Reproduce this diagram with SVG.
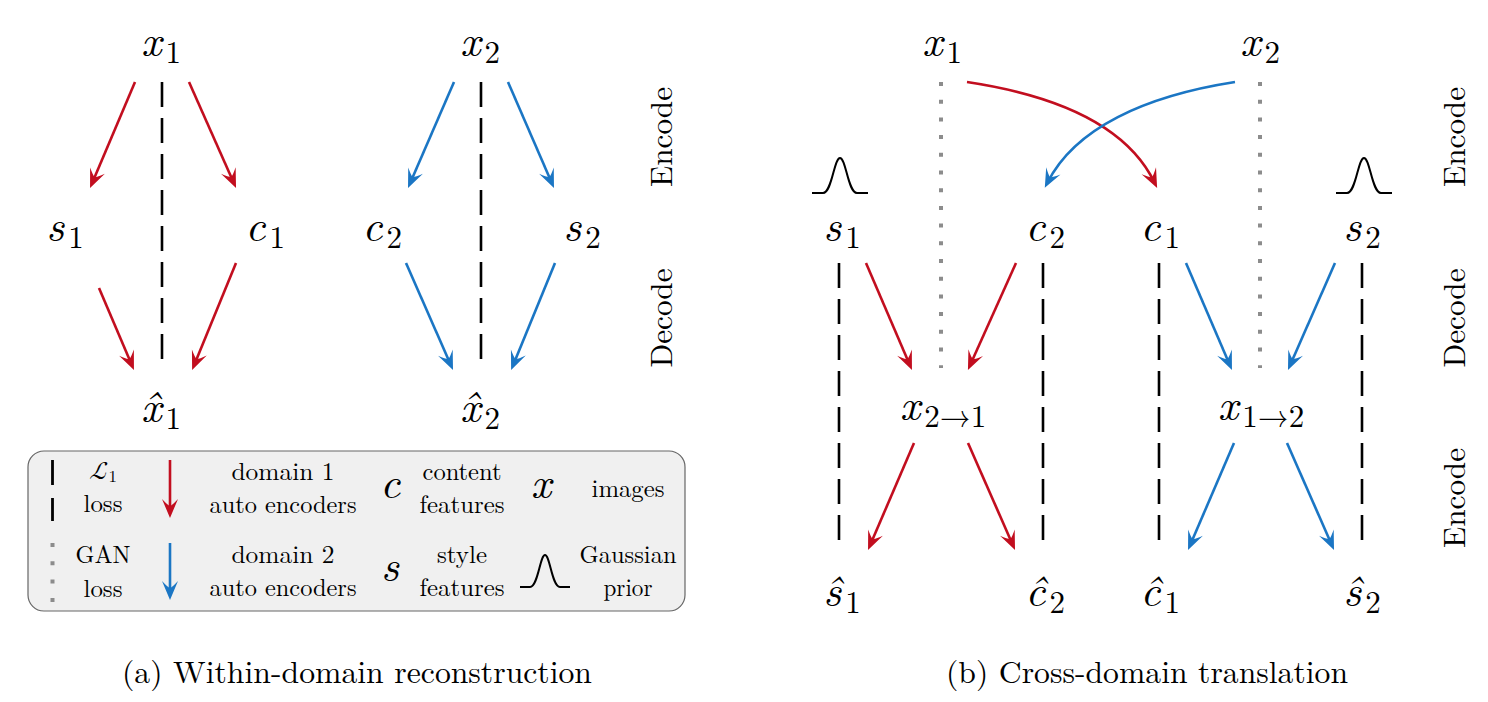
<svg xmlns="http://www.w3.org/2000/svg" width="1488" height="702" viewBox="0 0 1488 702">
<style>
.m{font-size:44px;text-anchor:middle}
.i{font-style:italic}
.sb{font-size:31px;font-style:normal}
.lg{font-size:24.5px;text-anchor:middle}
.lab{font-size:31px;text-anchor:middle}
.cap{font-size:31px;text-anchor:middle}
.r{stroke:#c20e1f;stroke-width:2.6;fill:none}
.b{stroke:#1b76c4;stroke-width:2.6;fill:none}
.d{stroke:#000;stroke-width:2.6;stroke-dasharray:25 11;fill:none}
.g{stroke:#8c8c8c;stroke-width:4;stroke-dasharray:4 13.7;fill:none}
.gs{stroke:#000;stroke-width:2;fill:none}
</style>
<defs>
<marker id="ar" viewBox="-20 -10 28 20" refX="0" refY="0" markerWidth="28" markerHeight="20" markerUnits="userSpaceOnUse" orient="auto"><path d="M6,0 L-13,-8 Q-6,-1.5 -6,0 Q-6,1.5 -13,8 Z" fill="#c20e1f"/></marker>
<marker id="ab" viewBox="-20 -10 28 20" refX="0" refY="0" markerWidth="28" markerHeight="20" markerUnits="userSpaceOnUse" orient="auto"><path d="M6,0 L-13,-8 Q-6,-1.5 -6,0 Q-6,1.5 -13,8 Z" fill="#1b76c4"/></marker>
</defs>

<!-- Panel (a) nodes -->
<g id="a-x1"><text font-family="Latin Modern Roman, Liberation Serif, serif" class="m" x="161" y="56"><tspan class="i">x</tspan><tspan class="sb" dx="4" dy="7">1</tspan></text></g>
<g id="a-x2"><text font-family="Latin Modern Roman, Liberation Serif, serif" class="m" x="480" y="56"><tspan class="i">x</tspan><tspan class="sb" dx="4" dy="7">2</tspan></text></g>
<g id="a-s1"><text font-family="Latin Modern Roman, Liberation Serif, serif" class="m" x="65" y="241"><tspan class="i">s</tspan><tspan class="sb" dx="4" dy="7">1</tspan></text></g>
<g id="a-c1"><text font-family="Latin Modern Roman, Liberation Serif, serif" class="m" x="265" y="241"><tspan class="i">c</tspan><tspan class="sb" dx="4" dy="7">1</tspan></text></g>
<g id="a-c2"><text font-family="Latin Modern Roman, Liberation Serif, serif" class="m" x="382" y="241"><tspan class="i">c</tspan><tspan class="sb" dx="4" dy="7">2</tspan></text></g>
<g id="a-s2"><text font-family="Latin Modern Roman, Liberation Serif, serif" class="m" x="582" y="241"><tspan class="i">s</tspan><tspan class="sb" dx="4" dy="7">2</tspan></text></g>
<g id="a-xh1"><text font-family="Latin Modern Roman, Liberation Serif, serif" class="m" x="161" y="422"><tspan class="i">x̂</tspan><tspan class="sb" dx="4" dy="7">1</tspan></text></g>
<g id="a-xh2"><text font-family="Latin Modern Roman, Liberation Serif, serif" class="m" x="480" y="422"><tspan class="i">x̂</tspan><tspan class="sb" dx="4" dy="7">2</tspan></text></g>
<g id="a-labels">
<text font-family="Latin Modern Roman, Liberation Serif, serif" class="lab" transform="translate(672,137) rotate(-90)" textLength="100" lengthAdjust="spacingAndGlyphs">Encode</text>
<text font-family="Latin Modern Roman, Liberation Serif, serif" class="lab" transform="translate(672,318) rotate(-90)" textLength="99" lengthAdjust="spacingAndGlyphs">Decode</text>
</g>

<!-- Panel (b) nodes -->
<g id="b-x1"><text font-family="Latin Modern Roman, Liberation Serif, serif" class="m" x="942" y="56"><tspan class="i">x</tspan><tspan class="sb" dx="4" dy="7">1</tspan></text></g>
<g id="b-x2"><text font-family="Latin Modern Roman, Liberation Serif, serif" class="m" x="1260" y="56"><tspan class="i">x</tspan><tspan class="sb" dx="4" dy="7">2</tspan></text></g>
<g id="b-s1"><text font-family="Latin Modern Roman, Liberation Serif, serif" class="m" x="842" y="241"><tspan class="i">s</tspan><tspan class="sb" dx="4" dy="7">1</tspan></text><path class="gs" d="M812,193 L823,193 C832,193 834,158 840,158 C846,158 848,193 857,193 L868,193"/></g>
<g id="b-c2"><text font-family="Latin Modern Roman, Liberation Serif, serif" class="m" x="1045" y="241"><tspan class="i">c</tspan><tspan class="sb" dx="4" dy="7">2</tspan></text></g>
<g id="b-c1"><text font-family="Latin Modern Roman, Liberation Serif, serif" class="m" x="1160" y="241"><tspan class="i">c</tspan><tspan class="sb" dx="4" dy="7">1</tspan></text></g>
<g id="b-s2"><text font-family="Latin Modern Roman, Liberation Serif, serif" class="m" x="1362" y="241"><tspan class="i">s</tspan><tspan class="sb" dx="4" dy="7">2</tspan></text><path class="gs" d="M1336,193 L1347,193 C1356,193 1358,158 1364,158 C1370,158 1372,193 1381,193 L1392,193"/></g>
<g id="b-x21"><text font-family="Latin Modern Roman, Liberation Serif, serif" class="m" x="943" y="420"><tspan class="i">x</tspan><tspan class="sb" dx="4" dy="7">2→1</tspan></text></g>
<g id="b-x12"><text font-family="Latin Modern Roman, Liberation Serif, serif" class="m" x="1261" y="420"><tspan class="i">x</tspan><tspan class="sb" dx="4" dy="7">1→2</tspan></text></g>
<g id="b-sh1"><text font-family="Latin Modern Roman, Liberation Serif, serif" class="m" x="842" y="606"><tspan class="i">ŝ</tspan><tspan class="sb" dx="4" dy="7">1</tspan></text></g>
<g id="b-ch2"><text font-family="Latin Modern Roman, Liberation Serif, serif" class="m" x="1045" y="606"><tspan class="i">ĉ</tspan><tspan class="sb" dx="4" dy="7">2</tspan></text></g>
<g id="b-ch1"><text font-family="Latin Modern Roman, Liberation Serif, serif" class="m" x="1160" y="606"><tspan class="i">ĉ</tspan><tspan class="sb" dx="4" dy="7">1</tspan></text></g>
<g id="b-sh2"><text font-family="Latin Modern Roman, Liberation Serif, serif" class="m" x="1362" y="606"><tspan class="i">ŝ</tspan><tspan class="sb" dx="4" dy="7">2</tspan></text></g>
<g id="b-labels">
<text font-family="Latin Modern Roman, Liberation Serif, serif" class="lab" transform="translate(1465,137) rotate(-90)" textLength="100" lengthAdjust="spacingAndGlyphs">Encode</text>
<text font-family="Latin Modern Roman, Liberation Serif, serif" class="lab" transform="translate(1465,318) rotate(-90)" textLength="99" lengthAdjust="spacingAndGlyphs">Decode</text>
<text font-family="Latin Modern Roman, Liberation Serif, serif" class="lab" transform="translate(1465,498) rotate(-90)" textLength="100" lengthAdjust="spacingAndGlyphs">Encode</text>
</g>

<!-- Connectors -->
<g id="connectors">
<line class="d" x1="162" y1="82" x2="162" y2="370"/>
<line class="d" x1="481" y1="82" x2="481" y2="370"/>
<line class="r" x1="135" y1="82" x2="92.4" y2="182.5" marker-end="url(#ar)"/>
<line class="r" x1="189" y1="82" x2="233.6" y2="182.5" marker-end="url(#ar)"/>
<line class="r" x1="99" y1="288" x2="131.6" y2="364.5" marker-end="url(#ar)"/>
<line class="r" x1="236" y1="263" x2="194.4" y2="364.5" marker-end="url(#ar)"/>
<line class="b" x1="454" y1="82" x2="410.4" y2="182.5" marker-end="url(#ab)"/>
<line class="b" x1="508" y1="82" x2="551.6" y2="182.5" marker-end="url(#ab)"/>
<line class="b" x1="406" y1="263" x2="450.6" y2="364.5" marker-end="url(#ab)"/>
<line class="b" x1="555" y1="263" x2="513.4" y2="364.5" marker-end="url(#ab)"/>

<line class="g" x1="941" y1="82" x2="941" y2="368"/>
<line class="g" x1="1260" y1="82" x2="1260" y2="368"/>
<path class="r" d="M967,82 C1060,96 1128,128 1154.5,182.5" marker-end="url(#ar)"/>
<path class="b" d="M1235,82 C1145,96 1075,128 1047.5,182.5" marker-end="url(#ab)"/>
<line class="d" x1="839" y1="263" x2="839" y2="550"/>
<line class="d" x1="1043" y1="263" x2="1043" y2="550"/>
<line class="d" x1="1159" y1="263" x2="1159" y2="550"/>
<line class="d" x1="1362" y1="263" x2="1362" y2="550"/>
<line class="r" x1="866" y1="263" x2="909.6" y2="364.5" marker-end="url(#ar)"/>
<line class="r" x1="1016" y1="263" x2="970.4" y2="364.5" marker-end="url(#ar)"/>
<line class="r" x1="914" y1="443" x2="870.4" y2="544.5" marker-end="url(#ar)"/>
<line class="r" x1="968" y1="443" x2="1012.6" y2="544.5" marker-end="url(#ar)"/>
<line class="b" x1="1186" y1="263" x2="1229.6" y2="364.5" marker-end="url(#ab)"/>
<line class="b" x1="1335" y1="263" x2="1290.4" y2="364.5" marker-end="url(#ab)"/>
<line class="b" x1="1234" y1="443" x2="1190.4" y2="544.5" marker-end="url(#ab)"/>
<line class="b" x1="1287" y1="443" x2="1331.6" y2="544.5" marker-end="url(#ab)"/>
</g>

<!-- Legend -->
<g id="legend">
<rect x="28" y="451" width="657" height="160" rx="16" fill="#f0f0f0" stroke="#666" stroke-width="1.2"/>
<line x1="52.5" y1="460" x2="52.5" y2="521" stroke="#000" stroke-width="2.8" stroke-dasharray="25 13"/>
<line x1="52.5" y1="543" x2="52.5" y2="602" stroke="#8c8c8c" stroke-width="4" stroke-dasharray="4 14.3"/>
<text font-family="Latin Modern Math, Latin Modern Roman, DejaVu Serif, serif" x="103" y="479" font-size="25" text-anchor="middle"><tspan>ℒ</tspan><tspan font-size="17" dy="3">1</tspan></text>
<text font-family="Latin Modern Roman, Liberation Serif, serif" class="lg" x="103" y="512" textLength="39" lengthAdjust="spacingAndGlyphs">loss</text>
<text font-family="Latin Modern Roman, Liberation Serif, serif" class="lg" x="103" y="563" textLength="55" lengthAdjust="spacingAndGlyphs">GAN</text>
<text font-family="Latin Modern Roman, Liberation Serif, serif" class="lg" x="103" y="597" textLength="39" lengthAdjust="spacingAndGlyphs">loss</text>
<line class="r" x1="170" y1="460" x2="170" y2="512" marker-end="url(#ar)"/>
<line class="b" x1="170" y1="543" x2="170" y2="594" marker-end="url(#ab)"/>
<text font-family="Latin Modern Roman, Liberation Serif, serif" class="lg" x="283" y="480" textLength="103" lengthAdjust="spacingAndGlyphs">domain 1</text>
<text font-family="Latin Modern Roman, Liberation Serif, serif" class="lg" x="283" y="513" textLength="147" lengthAdjust="spacingAndGlyphs">auto encoders</text>
<text font-family="Latin Modern Roman, Liberation Serif, serif" class="lg" x="283" y="563" textLength="103" lengthAdjust="spacingAndGlyphs">domain 2</text>
<text font-family="Latin Modern Roman, Liberation Serif, serif" class="lg" x="283" y="596" textLength="147" lengthAdjust="spacingAndGlyphs">auto encoders</text>
<text font-family="Latin Modern Roman, Liberation Serif, serif" class="m i" x="390" y="498" font-size="40">c</text>
<text font-family="Latin Modern Roman, Liberation Serif, serif" class="m i" x="390" y="581" font-size="40">s</text>
<text font-family="Latin Modern Roman, Liberation Serif, serif" class="lg" x="462" y="480" textLength="79" lengthAdjust="spacingAndGlyphs">content</text>
<text font-family="Latin Modern Roman, Liberation Serif, serif" class="lg" x="462" y="513" textLength="85" lengthAdjust="spacingAndGlyphs">features</text>
<text font-family="Latin Modern Roman, Liberation Serif, serif" class="lg" x="462" y="563" textLength="50" lengthAdjust="spacingAndGlyphs">style</text>
<text font-family="Latin Modern Roman, Liberation Serif, serif" class="lg" x="462" y="596" textLength="85" lengthAdjust="spacingAndGlyphs">features</text>
<text font-family="Latin Modern Roman, Liberation Serif, serif" class="m i" x="541" y="498" font-size="40">x</text>
<text font-family="Latin Modern Roman, Liberation Serif, serif" class="lg" x="628" y="497" textLength="73" lengthAdjust="spacingAndGlyphs">images</text>
<path class="gs" d="M520,587 L530,587 C538,587 540,555 545,555 C550,555 552,587 560,587 L570,587"/>
<text font-family="Latin Modern Roman, Liberation Serif, serif" class="lg" x="628" y="563" textLength="97" lengthAdjust="spacingAndGlyphs">Gaussian</text>
<text font-family="Latin Modern Roman, Liberation Serif, serif" class="lg" x="628" y="596" textLength="49" lengthAdjust="spacingAndGlyphs">prior</text>
</g>

<!-- Captions -->
<g id="captions">
<text font-family="Latin Modern Roman, Liberation Serif, serif" class="cap" x="357" y="683" textLength="470" lengthAdjust="spacingAndGlyphs">(a) Within-domain reconstruction</text>
<text font-family="Latin Modern Roman, Liberation Serif, serif" class="cap" x="1147" y="683" textLength="402" lengthAdjust="spacingAndGlyphs">(b) Cross-domain translation</text>
</g>
</svg>
